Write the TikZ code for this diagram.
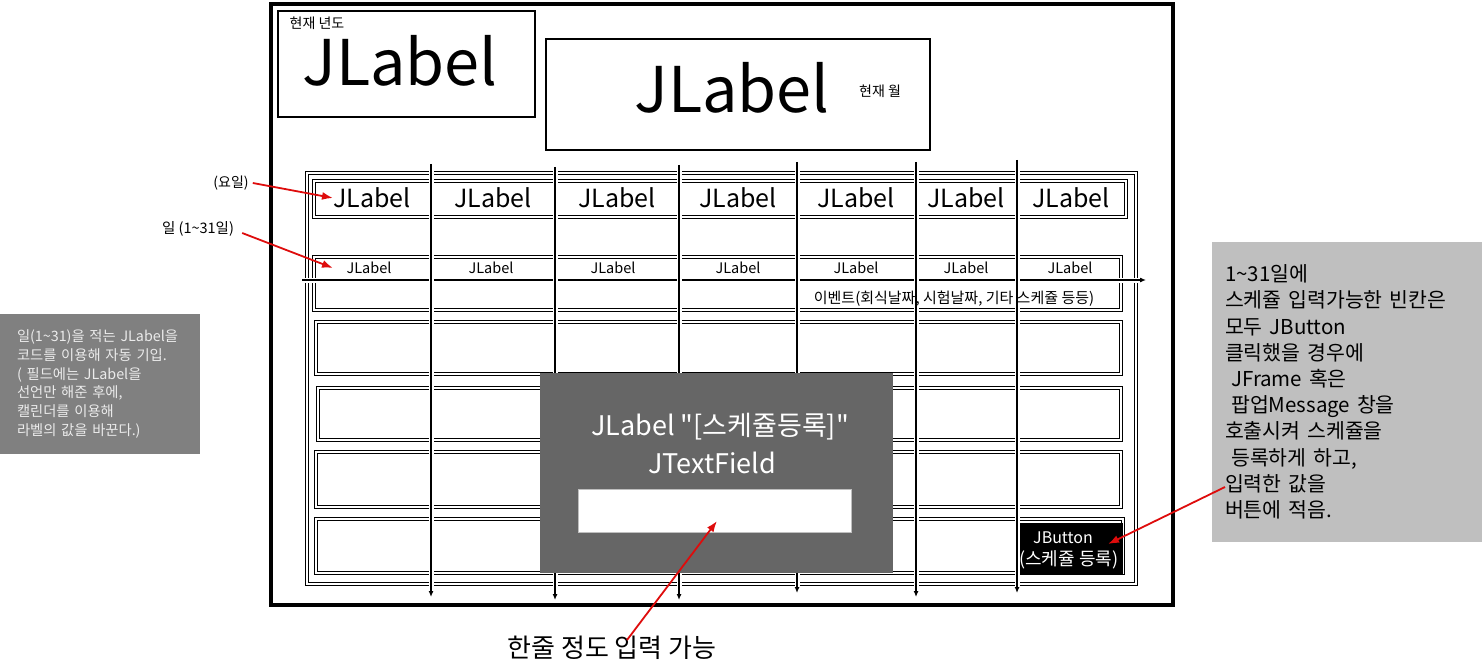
\documentclass[tikz,border=0pt]{standalone}
\usepackage{fontspec}
\setmainfont{Noto Sans CJK KR}[Ligatures=TeXOff]
\usepackage{xcolor}
\usetikzlibrary{arrows.meta,positioning}
\definecolor{arrowred}{RGB}{222,12,12}
\newcommand{\fsz}[2][1.2]{\fontsize{#2}{#1\dimexpr#2pt\relax}\selectfont}
\tikzset{
	txt/.style={inner sep=0pt},
	dline/.style={draw=black, line width=1pt, double=white, double distance=1.1pt},
	colline/.style={-{Latex[length=6pt,width=5pt]}, line width=1.5pt, preaction={draw=white, line width=5pt, arrows=-}},
	redarrow/.style={-{Latex[length=11pt,width=8pt]}, draw=arrowred, line width=1.8pt},
	notebox/.style={align=left, inner ysep=0pt, anchor=center},
}

\begin{document}
\begin{tikzpicture}[x=1pt,y=-1pt]
		\useasboundingbox (0,0) rectangle (1482,663);
		\draw[line width=4pt] (271,4) rectangle (1173,605);
		\draw[line width=1.6pt] (278,11) rectangle (535,117);
		\draw[line width=1.6pt] (546,39) rectangle (930,150);
		\node[txt] (yearname) at (317,23) {\fsz{14}현재 년도};
		\node[txt] (yearlabel) at (400,61) {\fsz{63}JLabel};
		\node[txt] (monthlabel) at (732,88) {\fsz{63}JLabel};
		\node[txt] (monthname) at (880,91) {\fsz{14}현재 월};
		\draw[dline] (307,173) rectangle (1136,584);
		\draw[dline] (314,181) rectangle (1126,217);
		\draw[dline] (314,257) rectangle (1121,310);
		\draw[dline] (316,322) rectangle (1121,374);
		\draw[dline] (318,388) rectangle (1121,440);
		\draw[dline] (316,452) rectangle (1121,507);
		\draw[dline] (316,519) rectangle (1123,573);
		\draw[colline] (302,280) -- (1146,280);
		\foreach \x/\t/\b in {431/164/597, 555/167/600, 679/165/600, 797/162/593, 916/162/597, 1017/160/593}
			\draw[colline] (\x,\t) -- (\x,\b);
		\foreach \x [count=\i] in {372,493,617,738,856,966,1071}
			\node[txt] (day\i) at (\x,198) {\fsz{25}JLabel};
		\foreach \x [count=\i] in {369,491,613,738,856,966,1070}
			\node[txt] (date\i) at (\x,268) {\fsz{14.5}JLabel};
		\node[txt] (events) at (954,299) {\fsz{15}이벤트(회식날짜, 시험날짜, 기타 스케쥴 등등)};
		\node[fill=black!60, minimum width=353pt, minimum height=200pt, inner sep=0pt] (popup) at (716.5,473) {};
		\node[txt, text=white] (popuptitle) at (720,427) {\fsz{27}JLabel "[스케쥴등록]"};
		\node[txt, text=white] (popupfield) at (712,463) {\fsz{27}JTextField};
		\node[fill=white, draw=black!25, line width=0.6pt, minimum width=273pt, minimum height=43pt, inner sep=0pt] (field) at (714.5,510.5) {};
		\node[fill=black, minimum width=103pt, minimum height=51pt, inner sep=0pt] (btn) at (1071.5,548.5) {};
		\node[txt, text=white, anchor=west] (btntop) at (1033,538) {\fsz{16}JButton};
		\node[txt, text=white, anchor=west] (btnbottom) at (1019,560) {\fsz{18}(스케쥴 등록)};
		\node[fill=black!50, minimum width=199pt, minimum height=140pt, text width=165pt, inner xsep=18pt, notebox, text=black!8,
			font={\fontsize{14.3}{18.8}\selectfont}] (help) at (99.5,384) {일(1\textasciitilde31)을 적는 JLabel을\\
			코드를 이용해 자동 기입.\\
			( 필드에는 JLabel을\\
			선언만 해준 후에,\\
			캘린더를 이용해\\
			라벨의 값을 바꾼다.)};
		\node[fill=black!25, minimum width=270pt, minimum height=300pt, text width=244pt, inner xsep=13pt, notebox,
			font={\fontsize{20.5}{26.2}\selectfont}] (note) at (1347,392) {1\textasciitilde31일에\\
			스케쥴 입력가능한 빈칸은\\
			모두 JButton\\
			클릭했을 경우에\\
			\hspace*{0.3em}JFrame 혹은\\
			\hspace*{0.3em}팝업Message 창을\\
			호출시켜 스케쥴을\\
			\hspace*{0.3em}등록하게 하고,\\
			입력한 값을\\
			버튼에 적음.};
		\node[txt] (yoil) at (231,183) {\fsz{14}(요일)};
		\node[txt] (ilnum) at (198,229) {\fsz{14.5}일 (1\textasciitilde31일)};
		\node[txt] (hint) at (612,648) {\fsz{26}한줄 정도 입력 가능};
		\coordinate (yoiltip) at (333,198);
		\coordinate (ilnumtip) at (333,268);
		\coordinate (fieldtip) at (717,521);
		\coordinate (notetail) at (1225,487);
		\coordinate (btntip) at (1108,544);
		\draw[redarrow] ([xshift=4pt]yoil.east) -- (yoiltip);
		\draw[redarrow] ([xshift=8pt,yshift=-4pt]ilnum.east) -- (ilnumtip);
		\draw[redarrow] ([xshift=15pt,yshift=-4pt]hint.north) -- (fieldtip);
		\draw[redarrow] (notetail) -- (btntip);
\end{tikzpicture}
\end{document}
